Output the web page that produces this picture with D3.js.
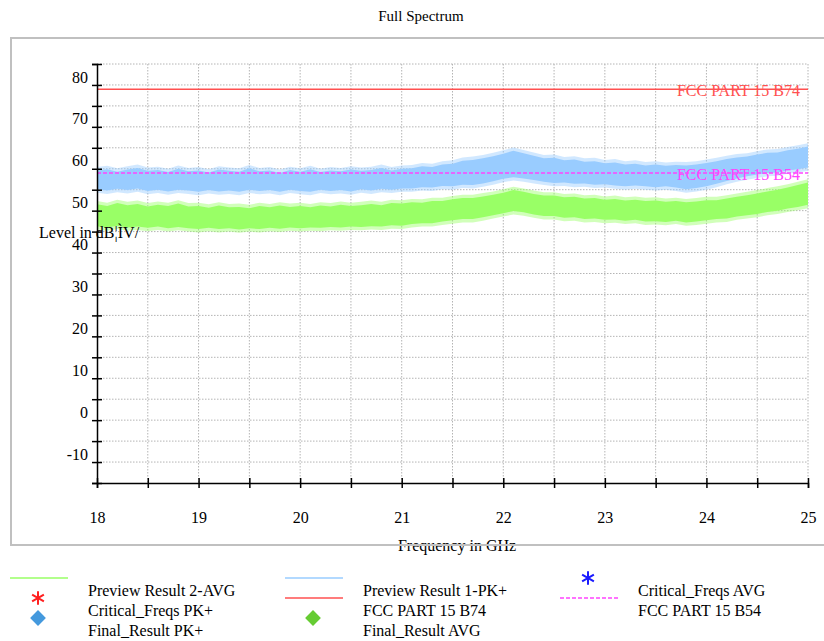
<!DOCTYPE html>
<html>
<head>
<meta charset="utf-8">
<script src="https://cdn.jsdelivr.net/npm/d3@7"></script>
<style>
  body { margin: 0; background: #fff; }
  svg { display: block; font-family: "Liberation Serif", "Times New Roman", serif; }
</style>
</head>
<body>
<svg id="chart" width="824" height="641"></svg>
<script>
// frequency grid of the traces, GHz (0.1 GHz steps)
var freqs = d3.range(0, 71).map(function (i) { return +(18 + i * 0.1).toFixed(1); });

// Preview Result 1-PK+ (blue band): upper and lower envelope, dBuV
var pkTop = [54.6, 54.9, 54.3, 54.8, 55.2, 54.5, 54.7, 54.2, 55.0, 54.4,
  54.6, 54.1, 54.8, 54.5, 54.3, 55.1, 54.4, 54.6, 54.0, 54.7,
  54.3, 54.9, 54.2, 54.6, 54.4, 54.8, 54.5, 54.7, 55.2, 54.6,
  55.0, 55.1, 55.6, 55.4, 56.0, 56.2, 56.9, 57.1, 57.5, 58.0,
  58.6, 59.3, 58.7, 58.1, 57.5, 57.6, 57.0, 57.2, 56.7, 56.8,
  56.3, 56.5, 56.0, 56.2, 55.8, 56.0, 55.7, 55.9, 55.8, 56.0,
  56.4, 56.8, 57.3, 57.7, 57.9, 58.4, 58.8, 58.9, 59.4, 59.8, 60.3];
var pkBottom = [50.1, 49.8, 50.2, 49.9, 50.3, 49.7, 50.0, 49.6, 50.0, 49.8,
  49.5, 49.9, 49.6, 49.8, 49.5, 50.0, 49.7, 49.9, 49.5, 50.0,
  49.7, 49.5, 50.0, 49.7, 49.9, 49.6, 50.1, 49.8, 50.2, 50.0,
  50.3, 50.3, 50.6, 50.5, 50.9, 50.8, 51.2, 51.1, 51.5, 52.0,
  52.6, 53.0, 52.7, 52.3, 51.9, 51.6, 51.7, 51.4, 51.5, 51.2,
  51.3, 51.0, 50.8, 51.0, 50.8, 50.6, 50.8, 50.5, 50.1, 50.4,
  50.8, 51.4, 52.1, 52.7, 53.2, 53.6, 54.0, 54.1, 54.6, 54.9, 55.3];

// Preview Result 2-AVG (green band): upper and lower envelope, dBuV
var avgTop = [46.5, 46.1, 46.8, 46.3, 46.6, 46.0, 46.4, 46.1, 46.7, 46.0,
  46.1, 45.7, 46.2, 45.8, 45.9, 45.6, 46.1, 45.8, 46.2, 45.9,
  46.1, 45.8, 46.2, 46.0, 46.4, 46.1, 46.3, 46.6, 46.3, 46.8,
  46.7, 47.0, 46.9, 47.3, 47.3, 47.7, 48.0, 48.0, 48.4, 48.8,
  49.3, 49.9, 49.5, 49.0, 48.6, 48.6, 48.2, 48.3, 47.9, 48.0,
  47.6, 47.8, 47.4, 47.6, 47.3, 47.4, 47.1, 47.3, 47.0, 47.2,
  47.5, 47.5, 47.9, 48.3, 48.7, 49.1, 49.6, 50.0, 50.5, 51.1, 51.7];
var avgBottom = [41.3, 41.0, 41.4, 41.0, 41.2, 40.9, 41.2, 40.8, 41.1, 40.8,
  40.6, 40.9, 40.6, 40.8, 40.5, 40.8, 40.6, 40.9, 40.7, 41.0,
  40.8, 41.0, 40.9, 41.1, 41.0, 41.2, 41.1, 41.3, 41.2, 41.5,
  41.4, 41.8, 42.0, 42.0, 42.4, 42.7, 43.0, 43.0, 43.4, 43.9,
  44.4, 44.9, 44.6, 44.1, 43.7, 43.7, 43.3, 43.4, 43.0, 43.1,
  42.8, 42.9, 42.6, 42.8, 42.4, 42.5, 42.3, 42.6, 42.2, 42.4,
  42.7, 43.0, 43.1, 43.6, 43.9, 44.2, 44.7, 45.0, 45.5, 45.9, 46.4];

// limit lines
var limitNames = ["FCC PART 15 B74", "FCC PART 15 B54"];
var limitLevels = [74, 54];

// axis ticks
var yTicks = d3.range(-20, 81, 5);
var yLabels = [80, 70, 60, 50, 40, 30, 20, 10, 0, -10];
var xTicks = d3.range(18, 25.01, 0.5);
var xLabels = [18, 19, 20, 21, 22, 23, 24, 25];

// legend, three columns
var legendNames = ["Preview Result 2-AVG", "Critical_Freqs PK+", "Final_Result PK+",
  "Preview Result 1-PK+", "FCC PART 15 B74", "Final_Result AVG",
  "Critical_Freqs AVG", "FCC PART 15 B54"];
var legendKinds = ["line", "star", "diamond", "line", "line", "diamond", "star", "dash"];
var legendColors = ["#99ff66", "#ff2020", "#4499dd", "#99ccff", "#ff5050", "#66cc33", "#1a1aff", "#ff44ff"];

var svg = d3.select("#chart");

var x = d3.scaleLinear().domain([18, 25]).range([97, 808]);
var y = d3.scaleLinear().domain([-20, 80]).range([483, 64]);

// title
svg.append("text")
  .attr("x", 421).attr("y", 21)
  .attr("text-anchor", "middle")
  .style("font-size", "15px")
  .text("Full Spectrum");

// dotted grid
var grid = svg.append("g").attr("stroke", "#b4b4b4").attr("stroke-dasharray", "1.5,1.5");
grid.selectAll(".hg").data(yTicks.filter(function (d) { return d > -20; }))
  .enter().append("line")
  .attr("x1", x(18)).attr("x2", x(25))
  .attr("y1", function (d) { return y(d); }).attr("y2", function (d) { return y(d); });
grid.selectAll(".vg").data(xTicks.filter(function (d) { return d > 18; }))
  .enter().append("line")
  .attr("y1", y(80)).attr("y2", y(-20))
  .attr("x1", function (d) { return x(d); }).attr("x2", function (d) { return x(d); });

// traces drawn as bands between envelopes, with a faint fringe for the noise spikes
function band(top, bottom, off) {
  return d3.area()
    .x(function (d, i) { return x(freqs[i]); })
    .y0(function (d, i) { return y(bottom[i] - off); })
    .y1(function (d, i) { return y(top[i] + off); })(freqs);
}
svg.append("path").attr("d", band(pkTop, pkBottom, 0.8)).attr("fill", "#99ccff").attr("opacity", 0.45);
svg.append("path").attr("d", band(pkTop, pkBottom, 0)).attr("fill", "#99ccff");
svg.append("path").attr("d", band(avgTop, avgBottom, 0.8)).attr("fill", "#99ff66").attr("opacity", 0.45);
svg.append("path").attr("d", band(avgTop, avgBottom, 0)).attr("fill", "#99ff66");

// limit lines + labels
var limColors = ["#ff5050", "#ff44ff"];
limitLevels.forEach(function (lv, i) {
  svg.append("text")
    .attr("x", 800).attr("y", y(lv) + 7)
    .attr("text-anchor", "end")
    .attr("fill", limColors[i])
    .style("font-size", "16px")
    .text(limitNames[i]);
  svg.append("line")
    .attr("x1", x(18)).attr("x2", x(25))
    .attr("y1", y(lv)).attr("y2", y(lv))
    .attr("stroke", limColors[i])
    .attr("stroke-width", 1.5)
    .attr("stroke-dasharray", i === 1 ? "4,2" : null);
});

// y axis
var yAxis = svg.append("g")
  .attr("transform", "translate(" + x(18) + ",0)")
  .call(d3.axisLeft(y).tickValues(yTicks).tickSizeOuter(0).tickSize(5)
    .tickFormat(function (d) { return yLabels.indexOf(d) >= 0 ? d : ""; }));
yAxis.select(".domain").attr("stroke-width", 1.5);
yAxis.selectAll(".tick line").attr("x1", 5).attr("x2", -5).attr("stroke-width", 1.5);
yAxis.selectAll(".tick text")
  .attr("x", -9).attr("dy", "18")
  .style("font-size", "16px").style("font-family", "'Liberation Serif', serif").attr("fill", "#000");

// x axis
var xAxis = svg.append("g")
  .attr("transform", "translate(0," + y(-20) + ")")
  .call(d3.axisBottom(x).tickValues(xTicks).tickSizeOuter(0).tickSize(5)
    .tickFormat(function (d) { return xLabels.indexOf(d) >= 0 ? d : ""; }));
xAxis.select(".domain").attr("stroke-width", 1.5);
xAxis.selectAll(".tick line").attr("y1", -5).attr("y2", 5).attr("stroke-width", 1.5);
xAxis.selectAll(".tick text")
  .attr("y", 40).attr("dy", "0")
  .style("font-size", "16px").style("font-family", "'Liberation Serif', serif").attr("fill", "#000");

// axis titles
svg.append("text")
  .attr("x", 39).attr("y", 238)
  .style("font-size", "16px")
  .text("Level in dB\u00a6\u00ccV/");
svg.append("text")
  .attr("x", 457).attr("y", 551)
  .attr("text-anchor", "middle")
  .style("font-size", "16px")
  .text("Frequency in GHz");

// frame
svg.append("rect")
  .attr("x", 11).attr("y", 38).attr("width", 840).attr("height", 507)
  .attr("fill", "none").attr("stroke", "#c0c0c0").attr("stroke-width", 2);

// legend
var colX = [10, 285, 560];
var textX = [88, 363, 638];
legendNames.forEach(function (name, i) {
  var c = Math.floor(i / 3), r = i % 3;
  var sy = 578 + r * 20;
  var g = svg.append("g");
  var kind = legendKinds[i], col = legendColors[i];
  if (kind === "line" || kind === "dash") {
    g.append("line")
      .attr("x1", colX[c]).attr("x2", colX[c] + 58)
      .attr("y1", sy).attr("y2", sy)
      .attr("stroke", col).attr("stroke-width", 1.5)
      .attr("stroke-dasharray", kind === "dash" ? "4,2" : null);
  } else if (kind === "star") {
    g.append("path")
      .attr("transform", "translate(" + (colX[c] + 28) + "," + sy + ")")
      .attr("d", d3.symbol(d3.symbolAsterisk, 130)())
      .attr("fill", "none").attr("stroke", col).attr("stroke-width", 2);
  } else {
    g.append("path")
      .attr("transform", "translate(" + (colX[c] + 28) + "," + sy + ") rotate(45)")
      .attr("d", d3.symbol(d3.symbolSquare, 125)())
      .attr("fill", col);
  }
  g.append("text")
    .attr("x", textX[c]).attr("y", sy + 18)
    .style("font-size", "16px")
    .text(name);
});
</script>
</body>
</html>
